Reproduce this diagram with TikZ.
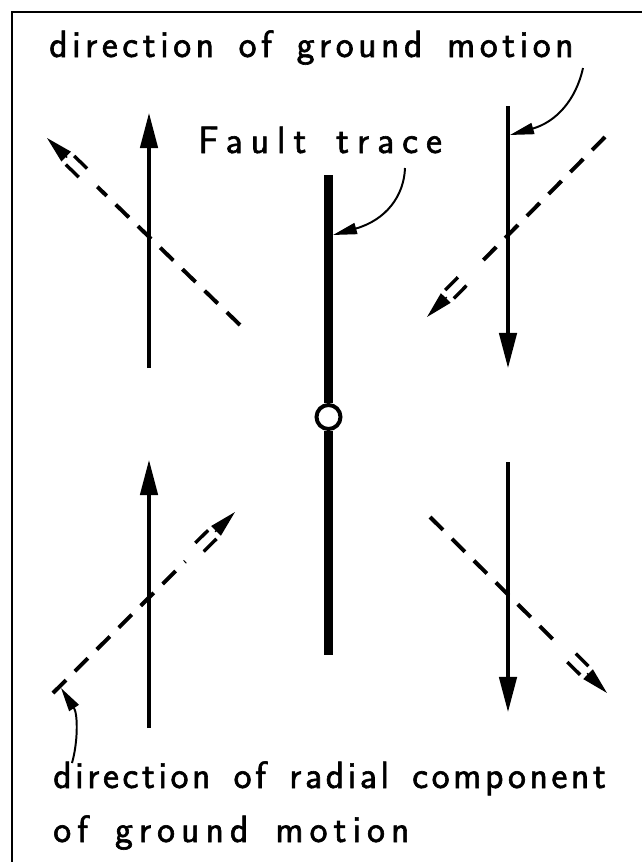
\documentclass[tikz,border=0pt]{standalone}
\usepackage{fontspec}
\newfontfamily\lettering{Latin Modern Sans}[WordSpace=1.5, FakeBold=1.6]
\usetikzlibrary{arrows.meta, calc}
\tikzset{
	frameline/.style={line width=2pt},
	motion/.style   ={line width=2.2pt, -{Triangle[length=25pt, width=12.5pt]}},
	radial/.style   ={line width=2.8pt, dash pattern=on 13pt off 9pt},
	radpair/.style  ={line width=2.4pt},
	radhead/.style  ={line width=1pt, -{Triangle[length=19pt, width=9.5pt]}},
	fault/.style    ={line width=7pt},
	pointer/.style  ={line width=1.4pt, -{Triangle[length=17pt, width=8pt]}},
	txt/.style      ={font=\lettering\fontsize{27pt}{32pt}\selectfont\addfontfeatures{LetterSpace=#1}, anchor=base west, inner sep=0pt},
	txt/.default=12,
}
% dashed radial arrow: #1 tail, #2 tip
\newcommand{\radarrow}[2]{%
	\draw[radial] (#1) -- ($(#2)!1.75cm!(#1)$);
	\draw[radpair] ($(#2)!0.8cm!(#1)!0.15cm!90:(#1)$) -- ($(#2)!1.25cm!(#1)!0.15cm!90:(#1)$);
	\draw[radpair] ($(#2)!0.8cm!(#1)!0.15cm!270:(#1)$) -- ($(#2)!1.25cm!(#1)!0.15cm!270:(#1)$);
	\draw[radhead] ($(#2)!0.7cm!(#1)$) -- (#2);
}

\begin{document}
\begin{tikzpicture}[x=0.025cm, y=-0.025cm]
	\useasboundingbox (0,0) rectangle (642,862);
	% frame
	\coordinate (fTR) at (642,12);
	\coordinate (fTL) at (12,12);
	\coordinate (fBL) at (12,862);
	\draw[frameline] (fTR) -- (fTL) -- (fBL);
	% texts
	\node[txt] (top) at (49,57) {direction of ground motion};
	\node[txt=21] (ft) at (198,153) {Fault trace};
	\node[txt=9.5] (rad1) at (53,788) {direction of radial component};
	\node[txt=16] (rad2) at (53,842) {of ground motion};
	% fault trace with epicentre
	\node[circle, draw, line width=2.8pt, minimum size=0.6cm, inner sep=0pt] (epi) at (328.5,417) {};
	\coordinate (ftTop) at (328.5,175);
	\coordinate (ftBot) at (328.5,655);
	\draw[fault] (ftTop) -- (epi.north);
	\draw[fault] (epi.south) -- (ftBot);
	% ground motion
	\coordinate (ulS) at (149,368); \coordinate (ulE) at (149,113);
	\coordinate (urS) at (508,106); \coordinate (urE) at (508,368);
	\coordinate (llS) at (149,728); \coordinate (llE) at (149,460);
	\coordinate (lrS) at (508,462); \coordinate (lrE) at (508,712);
	\draw[motion] (ulS) -- (ulE);
	\draw[motion] (urS) -- (urE);
	\draw[motion] (llS) -- (llE);
	\draw[motion] (lrS) -- (lrE);
	% radial components
	\coordinate (ulT) at (240,325); \coordinate (ulH) at (47,138);
	\coordinate (urT) at (605,137); \coordinate (urH) at (427,317);
	\coordinate (llT) at (53,693);  \coordinate (llH) at (235,512);
	\coordinate (lrT) at (430,517); \coordinate (lrH) at (607,693);
	\radarrow{ulT}{ulH}
	\radarrow{urT}{urH}
	\radarrow{llT}{llH}
	\radarrow{lrT}{lrH}
	% pointers
	\coordinate (p1) at (583,68);  \coordinate (p1e) at (510,135);
	\coordinate (p2) at (405,168); \coordinate (p2e) at (333,235);
	\coordinate (p3) at (72,763);  \coordinate (p3e) at (61,688);
	\draw[pointer] (p1) .. controls (576,100) and (556,122) .. (p1e);
	\draw[pointer] (p2) .. controls (404,196) and (386,220) .. (p2e);
	\draw[pointer] (p3) .. controls (78,742) and (78,714) .. (p3e);
\end{tikzpicture}
\end{document}
